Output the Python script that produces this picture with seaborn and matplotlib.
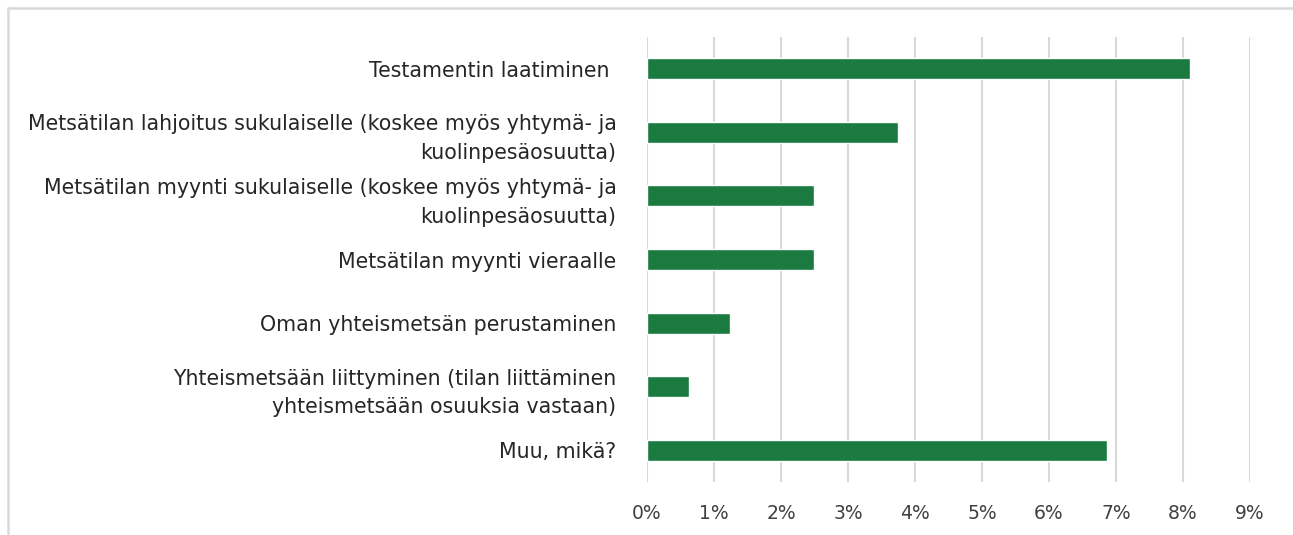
import matplotlib
matplotlib.use("Agg")
import matplotlib.pyplot as plt
import matplotlib.lines as mlines
from matplotlib.ticker import PercentFormatter
import pandas as pd
import seaborn as sns

# kategoriat ja osuudet (%)
categories = [
    "Testamentin laatiminen ",
    "Metsätilan lahjoitus sukulaiselle (koskee myös yhtymä- ja\nkuolinpesäosuutta)",
    "Metsätilan myynti sukulaiselle (koskee myös yhtymä- ja\nkuolinpesäosuutta)",
    "Metsätilan myynti vieraalle",
    "Oman yhteismetsän perustaminen",
    "Yhteismetsään liittyminen (tilan liittäminen\nyhteismetsään osuuksia vastaan)",
    "Muu, mikä?",
]
values = [8.11, 3.74, 2.49, 2.49, 1.24, 0.62, 6.87]
x_ticks = [0, 1, 2, 3, 4, 5, 6, 7, 8, 9]

df = pd.DataFrame({"kategoria": categories, "osuus": values})

sns.set_theme(style="white")
plt.rcParams['font.family'] = ['DejaVu Sans']

fig = plt.figure(figsize=(12.93, 5.35), dpi=100)
ax = fig.add_axes([647 / 1293, 1 - 482 / 535, (1250 - 647) / 1293, (482 - 37) / 535])

sns.barplot(data=df, x="osuus", y="kategoria", orient="h", color="#1a7a40",
            saturation=1, width=0.33, ax=ax, zorder=3)

ax.set_xlim(0, 9)
ax.set_xticks(x_ticks)
ax.xaxis.set_major_formatter(PercentFormatter(decimals=0))
ax.grid(axis="x", color="#d9d9d9", linewidth=1.5, zorder=0)
ax.set_axisbelow(True)
for s in ax.spines.values():
    s.set_visible(False)
ax.set_xlabel("")
ax.set_ylabel("")
ax.tick_params(axis="x", length=0, pad=16, labelsize=13.5, labelcolor="#404040")
ax.tick_params(axis="y", length=0, pad=22, labelsize=14.8, labelcolor="#262626")
for lbl in ax.get_yticklabels():
    lbl.set_linespacing(1.55)

# kehys (vain ylä- ja vasen reuna näkyvissä)
fig.add_artist(mlines.Line2D([8 / 1293, 1], [1 - 8 / 535] * 2, color="#d9d9d9", lw=1.8,
                             transform=fig.transFigure))
fig.add_artist(mlines.Line2D([8 / 1293] * 2, [0, 1 - 8 / 535], color="#d9d9d9", lw=1.8,
                             transform=fig.transFigure))

fig.savefig("out.png", dpi=100)
